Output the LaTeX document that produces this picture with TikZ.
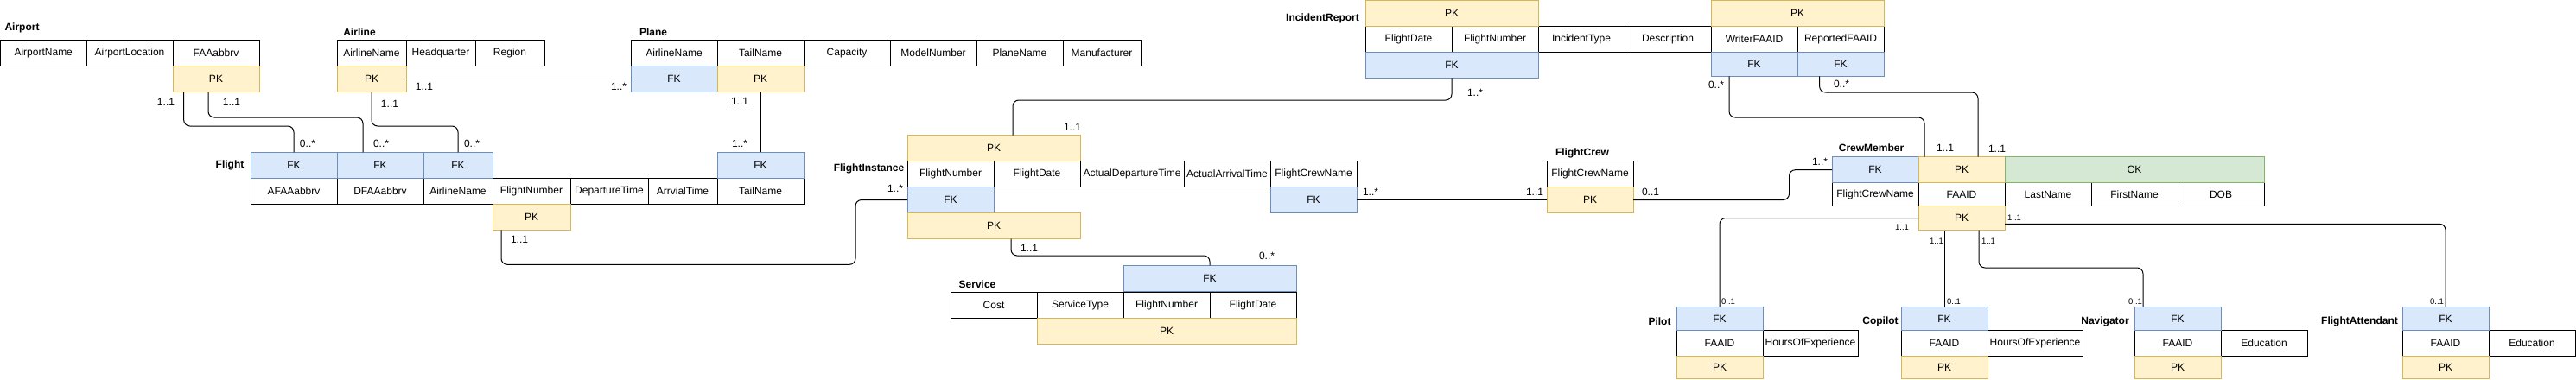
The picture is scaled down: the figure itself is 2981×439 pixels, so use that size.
\documentclass[tikz,border=0pt]{standalone}
\usepackage{fontspec}
\setmainfont{Liberation Sans}
\definecolor{pkfill}{HTML}{FFF2CC}
\definecolor{pkdraw}{HTML}{D6B656}
\definecolor{fkfill}{HTML}{DAE8FC}
\definecolor{fkdraw}{HTML}{6C8EBF}
\definecolor{ckfill}{HTML}{D5E8D4}
\definecolor{ckdraw}{HTML}{82B366}
\newcommand\fcell{\fontsize{12}{14}\selectfont}
\newcommand\fsmall{\fontsize{9.5}{11}\selectfont}
\newcommand\ftitle{\fontsize{12}{14}\selectfont\bfseries}
\tikzset{
  cell/.style={draw=black, fill=white, line width=1pt, anchor=north west, inner sep=0pt, outer sep=0pt, minimum height=30pt, minimum width=100pt, font=\fcell},
  pkc/.style={cell, draw=pkdraw, fill=pkfill},
  fkc/.style={cell, draw=fkdraw, fill=fkfill},
  ckc/.style={cell, draw=ckdraw, fill=ckfill},
  conn/.style={draw=black, line width=1pt, rounded corners=7pt},
  lab/.style={inner sep=0pt, font=\fcell},
  slab/.style={inner sep=0pt, font=\fsmall},
  ttl/.style={inner sep=0pt, font=\ftitle}
}
\begin{document}
\begin{tikzpicture}[x=1pt,y=-1pt]
\useasboundingbox (0,0) rectangle (2981,439);
\fill[white] (0,0) rectangle (2981,439);
% ---------- titles
\node[ttl] (tAirport) at (25.5,32) {Airport};
\node[ttl] (tAirline) at (416,37) {Airline};
\node[ttl] (tPlane) at (756,37) {Plane};
\node[ttl] (tFlight) at (266,191) {Flight};
\node[ttl] (tFI) at (1005.5,195) {FlightInstance};
\node[ttl] (tService) at (1131,329) {Service};
\node[ttl] (tIR) at (1530.5,21) {IncidentReport};
\node[ttl] (tFC) at (1831,177) {FlightCrew};
\node[ttl] (tCM) at (2165.5,171) {CrewMember};
\node[ttl] (tPilot) at (1920.5,372) {Pilot};
\node[ttl] (tCopilot) at (2176,372) {Copilot};
\node[ttl] (tNav) at (2436,372) {Navigator};
\node[ttl] (tFA) at (2730.5,372) {FlightAttendant};
% ---------- Airport
\node[cell, minimum width=99.5pt] (ap1) at (0.5,46.5) {AirportName};
\node[cell] (ap2) at (100,46.5) {AirportLocation};
\node[cell] (ap3) at (200,46.5) {FAAabbrv};
\node[pkc] (appk) at (200,76.5) {PK};
% ---------- Airline
\node[cell, minimum width=80pt] (al1) at (390,46.5) {AirlineName};
\node[cell, minimum width=80pt] (al2) at (470,46.5) {Headquarter};
\node[cell, minimum width=80pt] (al3) at (550,46.5) {Region};
\node[pkc, minimum width=80pt] (alpk) at (390,76.5) {PK};
% ---------- Plane
\node[cell] (pl1) at (730,46.5) {AirlineName};
\node[cell] (pl2) at (830,46.5) {TailName};
\node[cell] (pl3) at (930,46.5) {Capacity};
\node[cell] (pl4) at (1030,46.5) {ModelNumber};
\node[cell] (pl5) at (1130,46.5) {PlaneName};
\node[cell, minimum width=90pt] (pl6) at (1230,46.5) {Manufacturer};
\node[fkc] (plfk) at (730,76.5) {FK};
\node[pkc] (plpk) at (830,76.5) {PK};
% ---------- Flight
\node[cell] (f1) at (290,206.3) {AFAAabbrv};
\node[cell] (f2) at (390,206.3) {DFAAabbrv};
\node[cell, minimum width=80pt] (f3) at (490,206.3) {AirlineName};
\node[cell, minimum width=90pt] (f4) at (570,206.3) {FlightNumber};
\node[cell, minimum width=90pt] (f5) at (660,206.3) {DepartureTime};
\node[cell, minimum width=80pt] (f6) at (750,206.3) {ArrvialTime};
\node[cell] (f7) at (830,206.3) {TailName};
\node[fkc] (ffk1) at (290,176.3) {FK};
\node[fkc] (ffk2) at (390,176.3) {FK};
\node[fkc, minimum width=80pt] (ffk3) at (490,176.3) {FK};
\node[fkc] (ffk4) at (830,176.3) {FK};
\node[pkc, minimum width=90pt] (fpk) at (570,236.3) {PK};
% ---------- FlightInstance
\node[cell] (fi1) at (1050,186.5) {FlightNumber};
\node[cell] (fi2) at (1150,186.5) {FlightDate};
\node[cell, minimum width=120pt] (fi3) at (1250,186.5) {ActualDepartureTime};
\node[cell] (fi4) at (1370,186.5) {ActualArrivalTime};
\node[cell] (fi5) at (1470,186.5) {FlightCrewName};
\node[pkc, minimum width=200pt] (fipk1) at (1050,156.5) {PK};
\node[fkc] (fifk1) at (1050,216.5) {FK};
\node[fkc] (fifk2) at (1470,216.5) {FK};
\node[pkc, minimum width=200pt] (fipk2) at (1050,246.5) {PK};
% ---------- Service
\node[cell] (s1) at (1100,338) {Cost};
\node[cell] (s2) at (1200,338) {ServiceType};
\node[cell] (s3) at (1300,338) {FlightNumber};
\node[cell] (s4) at (1400,338) {FlightDate};
\node[fkc, minimum width=200pt] (sfk) at (1300,307.3) {FK};
\node[pkc, minimum width=300pt] (spk) at (1200,368) {PK};
% ---------- IncidentReport
\node[cell] (ir1) at (1580,30.3) {FlightDate};
\node[cell] (ir2) at (1680,30.3) {FlightNumber};
\node[cell] (ir3) at (1780,30.3) {IncidentType};
\node[cell] (ir4) at (1880,30.3) {Description};
\node[cell] (ir5) at (1980,30.3) {WriterFAAID};
\node[cell] (ir6) at (2080,30.3) {ReportedFAAID};
\node[pkc, minimum width=200pt, minimum height=29.8pt] (irpk1) at (1580,0.5) {PK};
\node[pkc, minimum width=200pt, minimum height=29.8pt] (irpk2) at (1980,0.5) {PK};
\node[fkc, minimum width=200pt] (irfk1) at (1580,60.3) {FK};
\node[fkc, minimum height=28pt] (irfk2) at (1980,60.3) {FK};
\node[fkc, minimum height=28pt] (irfk3) at (2080,60.3) {FK};
% ---------- FlightCrew
\node[cell] (fc1) at (1790,186.5) {FlightCrewName};
\node[pkc] (fcpk) at (1790,216.5) {PK};
% ---------- CrewMember
\node[cell, minimum height=26.6pt] (cm1) at (2120,211.7) {FlightCrewName};
\node[cell, minimum height=26.6pt] (cm2) at (2220,211.7) {FAAID};
\node[cell, minimum height=26.6pt] (cm3) at (2320,211.7) {LastName};
\node[cell, minimum height=26.6pt] (cm4) at (2420,211.7) {FirstName};
\node[cell, minimum height=26.6pt] (cm5) at (2520,211.7) {DOB};
\node[fkc] (cmfk) at (2120,181.7) {FK};
\node[pkc] (cmpk1) at (2220,181.7) {PK};
\node[ckc, minimum width=300pt] (cmck) at (2320,181.7) {CK};
\node[pkc, minimum height=28.4pt] (cmpk2) at (2220,238.3) {PK};
% ---------- Pilot
\node[cell, minimum height=29.7pt] (p1) at (1940,382.3) {FAAID};
\node[cell, minimum height=29.7pt, minimum width=110pt] (p2) at (2040,382.3) {HoursOfExperience};
\node[fkc, minimum height=26.6pt] (pfk) at (1940,355.7) {FK};
\node[pkc, minimum height=26.5pt] (ppk) at (1940,412) {PK};
% ---------- Copilot
\node[cell, minimum height=29.7pt] (c1) at (2200,382.3) {FAAID};
\node[cell, minimum height=29.7pt, minimum width=110pt] (c2) at (2300,382.3) {HoursOfExperience};
\node[fkc, minimum height=26.6pt] (cfk) at (2200,355.7) {FK};
\node[pkc, minimum height=26.5pt] (cpk) at (2200,412) {PK};
% ---------- Navigator
\node[cell, minimum height=29.7pt] (n1) at (2470,382.3) {FAAID};
\node[cell, minimum height=29.7pt] (n2) at (2570,382.3) {Education};
\node[fkc, minimum height=26.6pt] (nfk) at (2470,355.7) {FK};
\node[pkc, minimum height=26.5pt] (npk) at (2470,412) {PK};
% ---------- FlightAttendant
\node[cell, minimum height=29.7pt] (a1) at (2780,382.3) {FAAID};
\node[cell, minimum height=29.7pt] (a2) at (2880,382.3) {Education};
\node[fkc, minimum height=26.6pt] (afk) at (2780,355.7) {FK};
\node[pkc, minimum height=26.5pt] (apk) at (2780,412) {PK};
% ---------- connectors
\draw[conn] ([xshift=12.7pt]appk.south west) -- ++(0,39.5) -| (ffk1.north);
\draw[conn] ([xshift=41pt]appk.south west) -- ++(0,29.5) -| ([xshift=30pt]ffk2.north west);
\draw[conn] (alpk.east) -- (plfk.west);
\draw[conn] (alpk.south) -- ++(0,39.5) -| (ffk3.north);
\draw[conn] (plpk.south) -- (ffk4.north);
\draw[conn] ([xshift=10pt]fpk.south west) -- ++(0,40) -| ([xshift=-60pt]fifk1.west) -- (fifk1.west);
\draw[conn] ([xshift=122pt]fipk1.north west) -- ++(0,-40.5) -| (irfk1.south);
\draw[conn] ([xshift=120pt]fipk2.south west) -- ++(0,19.5) -| (sfk.north);
\draw[conn] (fifk2.east) -- (fcpk.west);
\draw[conn] (fcpk.east) -| ([xshift=-49.5pt]cmfk.west) -- (cmfk.west);
\draw[conn] ([xshift=21pt]irfk2.south west) -- ++(0,47.7) -| ([xshift=7pt]cmpk1.north west);
\draw[conn] ([xshift=25.6pt]irfk3.south west) -- ++(0,18.7) -| ([xshift=69pt]cmpk1.north west);
\draw[conn] (cmpk2.west) -| (pfk.north);
\draw[conn] ([xshift=30pt]cmpk2.south west) -- (cfk.north);
\draw[conn] ([xshift=70pt]cmpk2.south west) -- ++(0,43.3) -| ([xshift=10pt]nfk.north west);
\draw[conn] ([yshift=7.4pt]cmpk2.south east) -| (afk.north);
% ---------- multiplicities
\node[lab] (m1a) at (192,118) {1..1};
\node[lab] (m1b) at (356,166) {0..*};
\node[lab] (m2a) at (268,118) {1..1};
\node[lab] (m2b) at (441,166) {0..*};
\node[lab] (m3a) at (491,100) {1..1};
\node[lab] (m3b) at (716,100) {1..*};
\node[lab] (m4a) at (451,120) {1..1};
\node[lab] (m4b) at (546,166) {0..*};
\node[lab] (m5a) at (856,117) {1..1};
\node[lab] (m5b) at (856,166) {1..*};
\node[lab] (m6a) at (601,277) {1..1};
\node[lab] (m6b) at (1036,218) {1..*};
\node[lab] (m7a) at (1241,147) {1..1};
\node[lab] (m7b) at (1707,107) {1..*};
\node[lab] (m8a) at (1191,287) {1..1};
\node[lab] (m8b) at (1466,296) {0..*};
\node[lab] (m9a) at (1586,222) {1..*};
\node[lab] (m9b) at (1776,222) {1..1};
\node[lab] (m10a) at (1910,222) {0..1};
\node[lab] (m10b) at (2106,187) {1..*};
\node[lab] (m11a) at (1986,98) {0..*};
\node[lab] (m11b) at (2251,171) {1..1};
\node[lab] (m12a) at (2131,97) {0..*};
\node[lab] (m12b) at (2311,172) {1..1};
\node[slab] (m13a) at (2201,263) {1..1};
\node[slab] (m13b) at (2000,349) {0..1};
\node[slab] (m14a) at (2241,279) {1..1};
\node[slab] (m14b) at (2261,349) {0..1};
\node[slab] (m15a) at (2301,279) {1..1};
\node[slab] (m15b) at (2471,349) {0..1};
\node[slab] (m16a) at (2331,252) {1..1};
\node[slab] (m16b) at (2820,349) {0..1};
\end{tikzpicture}
\end{document}
